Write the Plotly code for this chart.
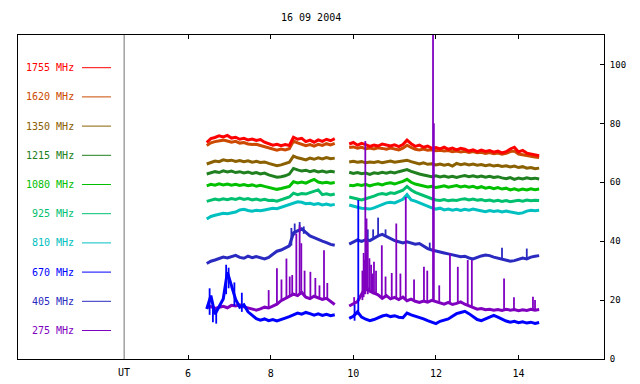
import plotly.graph_objects as go

# ---------------- data ----------------
TITLE = "16 09 2004"
LABELS = ["1755 MHz", "1620 MHz", "1350 MHz", "1215 MHz", "1080 MHz",
          "925 MHz", "810 MHz", "670 MHz", "405 MHz", "275 MHz"]
X_TICKS = [6, 8, 10, 12, 14]
Y_TICKS = [0, 20, 40, 60, 80, 100]

T_A = [6.45, 6.55, 6.65, 6.75, 6.85, 6.95, 7.05, 7.15, 7.25, 7.35, 7.45, 7.55,
       7.65, 7.75, 7.85, 7.95, 8.05, 8.15, 8.25, 8.35, 8.45, 8.55, 8.65, 8.75,
       8.85, 8.95, 9.05, 9.15, 9.25, 9.35, 9.45, 9.55]
T_B = [9.9, 10.0, 10.1, 10.2, 10.3, 10.4, 10.5, 10.6, 10.7, 10.8, 10.9, 11.0,
       11.1, 11.2, 11.3, 11.4, 11.5, 11.6, 11.7, 11.8, 11.9, 12.0, 12.1, 12.2,
       12.3, 12.4, 12.5, 12.6, 12.7, 12.8, 12.9, 13.0, 13.1, 13.2, 13.3, 13.4,
       13.5, 13.6, 13.7, 13.8, 13.9, 14.0, 14.1, 14.2, 14.3, 14.4, 14.5]

F1755_A = [73.5, 74.8, 75.2, 75.8, 75.4, 75.9, 75.0, 75.3,
           74.6, 74.9, 74.4, 74.7, 74.2, 74.5, 73.6, 73.2,
           72.6, 72.9, 72.4, 72.8, 72.5, 75.3, 74.6, 74.9,
           73.8, 74.3, 73.6, 74.4, 73.9, 74.6, 74.1, 74.8]
F1755_B = [73.0, 73.5, 72.6, 73.2, 72.8, 72.2, 72.6, 72.3,
           73.0, 72.6, 72.3, 72.7, 72.1, 72.8, 74.3, 73.1,
           72.2, 72.6, 71.9, 72.3, 71.5, 71.8, 71.3, 71.9,
           71.2, 71.6, 71.0, 71.5, 71.2, 70.6, 71.0, 70.4,
           70.9, 70.5, 70.8, 70.2, 70.6, 70.0, 70.4, 71.3,
           71.9, 70.3, 70.8, 69.9, 69.6, 69.3, 69.0]

F1620_A = [72.5, 73.4, 73.8, 74.1, 74.3, 74.0, 73.6, 73.9,
           73.3, 73.5, 73.0, 72.8, 72.9, 72.5, 72.1, 71.6,
           71.2, 70.9, 71.3, 71.0, 71.4, 74.0, 73.4, 73.0,
           72.4, 72.8, 72.3, 72.9, 72.5, 73.1, 72.7, 73.2]
F1620_B = [71.8, 72.0, 71.6, 71.9, 71.4, 71.6, 71.3, 71.7,
           71.5, 71.2, 71.6, 71.3, 71.0, 71.6, 72.6, 71.8,
           71.2, 71.0, 71.3, 70.9, 71.0, 70.7, 70.9, 70.6,
           70.8, 70.4, 70.6, 70.3, 70.5, 70.1, 70.4, 70.0,
           70.2, 69.8, 70.1, 69.7, 69.9, 69.5, 69.8, 70.4,
           70.6, 69.6, 69.3, 69.0, 68.8, 68.6, 68.4]

F1350_A = [66.2, 66.8, 67.2, 67.0, 67.6, 67.3, 67.5, 67.1,
           67.4, 67.0, 67.3, 66.8, 67.1, 66.7, 66.9, 66.4,
           66.0, 65.6, 65.9, 66.3, 66.8, 68.9, 68.3, 68.0,
           67.6, 68.2, 67.8, 68.3, 67.9, 68.4, 68.0, 68.2]
F1350_B = [66.9, 67.1, 66.8, 67.0, 66.6, 66.9, 66.7, 67.0,
           66.6, 66.9, 67.2, 66.8, 67.1, 67.3, 67.5, 67.0,
           66.5, 66.2, 66.6, 66.1, 66.3, 65.9, 66.2, 65.8,
           66.1, 65.5, 66.4, 66.0, 66.3, 65.9, 66.2, 65.8,
           66.0, 65.6, 65.9, 65.5, 65.8, 65.4, 65.6, 65.2,
           65.5, 65.0, 65.3, 64.8, 65.0, 64.6, 64.8]

F1215_A = [62.8, 63.2, 63.6, 63.3, 63.9, 63.5, 63.8, 63.3,
           63.6, 63.2, 63.5, 63.0, 63.3, 62.8, 63.1, 62.5,
           62.0, 61.7, 61.9, 62.2, 62.8, 64.7, 64.2, 63.8,
           64.1, 63.6, 64.0, 63.5, 63.8, 63.4, 63.7, 63.5]
F1215_B = [63.4, 63.0, 63.3, 62.9, 63.1, 62.7, 63.2, 63.0,
           63.4, 63.1, 63.5, 63.2, 63.6, 63.9, 64.3, 63.7,
           63.2, 62.8, 62.5, 62.2, 61.9, 62.2, 61.8, 62.1,
           61.7, 62.0, 61.6, 62.0, 62.3, 61.9, 62.2, 61.8,
           62.1, 61.7, 62.0, 61.6, 61.9, 61.5, 61.2, 61.6,
           61.0, 61.4, 61.1, 61.5, 61.2, 61.4, 61.1]

F1080_A = [58.8, 59.3, 59.0, 59.5, 59.1, 59.4, 59.0, 59.3,
           58.9, 59.2, 58.8, 59.1, 58.7, 59.0, 58.6, 58.3,
           57.9, 57.6, 57.9, 58.2, 58.6, 60.2, 59.8, 60.1,
           59.7, 60.4, 61.0, 60.1, 59.8, 60.0, 59.7, 59.9]
F1080_B = [59.0, 58.8, 59.2, 58.9, 59.3, 58.8, 59.2, 59.5,
           59.1, 59.6, 59.8, 59.4, 59.9, 60.3, 61.0, 60.0,
           59.4, 59.0, 58.7, 58.4, 58.6, 58.2, 58.5, 58.8,
           58.3, 58.6, 58.9, 58.4, 58.7, 58.3, 58.6, 58.1,
           58.5, 58.0, 58.3, 57.8, 58.2, 57.7, 58.0, 57.4,
           57.8, 57.3, 57.7, 57.4, 57.8, 57.5, 57.7]

F925_A = [53.5, 54.0, 54.3, 54.0, 54.4, 54.1, 54.5, 54.2,
          54.6, 54.2, 54.5, 54.0, 54.3, 53.9, 54.2, 53.8,
          53.9, 53.6, 54.0, 54.4, 55.0, 56.3, 55.8, 56.2,
          56.0, 56.5, 57.0, 57.4, 55.8, 56.1, 55.7, 56.0]
F925_B = [55.0, 54.6, 54.2, 54.0, 54.4, 54.8, 55.3, 55.9,
          56.2, 55.9, 56.4, 56.2, 56.8, 57.3, 58.6, 57.4,
          56.6, 56.0, 55.4, 54.9, 54.4, 54.0, 53.8, 54.1,
          53.7, 54.0, 53.8, 54.2, 54.4, 54.0, 54.3, 53.9,
          54.1, 53.7, 54.0, 53.6, 53.9, 53.5, 53.8, 53.4,
          53.7, 53.9, 53.6, 54.0, 53.7, 53.9, 53.8]

F810_A = [47.5, 48.4, 48.8, 49.2, 49.5, 49.3, 49.6, 49.9,
          50.6, 50.8, 50.4, 50.2, 50.5, 50.3, 50.6, 50.8,
          51.2, 51.0, 51.5, 52.0, 52.4, 52.8, 53.4, 53.2,
          52.7, 52.9, 52.5, 52.8, 52.3, 52.6, 52.2, 52.5]
F810_B = [52.3, 51.8, 51.5, 51.2, 51.0, 50.9, 51.3, 51.8,
          52.5, 53.0, 53.2, 53.0, 53.6, 54.2, 55.8, 54.0,
          53.6, 53.0, 52.6, 52.0, 51.3, 50.9, 51.2, 50.6,
          50.9, 50.5, 50.8, 50.4, 50.8, 50.5, 50.9, 50.6,
          50.3, 50.0, 50.4, 50.1, 50.3, 49.9, 50.2, 49.9,
          49.8, 49.4, 49.6, 50.2, 50.5, 50.3, 50.5]

F670_A = [17.0, 21.5, 15.2, 17.8, 20.4, 29.5, 25.0, 20.2,
          17.6, 18.4, 16.0, 14.8, 13.7, 13.2, 13.6, 13.0,
          13.4, 12.9, 13.5, 13.9, 14.4, 15.0, 15.6, 15.2,
          15.8, 15.4, 14.9, 15.3, 14.8, 15.2, 14.7, 15.0]
F670_B = [13.8, 14.5, 16.0, 14.2, 13.5, 13.0, 13.4, 14.0,
          14.6, 14.9, 14.4, 14.7, 14.2, 14.0, 15.6, 15.0,
          14.6, 14.0, 13.6, 13.0, 12.4, 12.0, 12.8, 13.3,
          13.6, 14.5, 15.4, 15.8, 16.2, 15.4, 14.3, 13.4,
          13.0, 13.6, 14.2, 14.8, 14.2, 13.5, 12.9, 12.5,
          12.8, 12.3, 12.6, 12.2, 12.5, 12.1, 12.4]

F405_A = [32.4, 33.2, 33.6, 34.1, 34.6, 34.3, 34.8, 35.2,
          34.5, 34.2, 34.9, 34.4, 34.8, 34.3, 34.0, 34.5,
          35.6, 36.6, 37.0, 37.6, 38.4, 42.8, 43.5, 44.2,
          43.0, 41.8, 41.2, 40.5, 40.0, 39.5, 38.9, 38.6]
F405_B = [39.0, 39.8, 40.4, 39.9, 40.5, 40.2, 41.0, 41.8,
          42.3, 41.6, 40.8, 40.2, 39.8, 39.4, 39.8, 39.3,
          39.0, 39.2, 38.3, 37.5, 37.0, 36.6, 36.3, 36.0,
          35.7, 35.4, 35.0, 34.7, 34.9, 34.3, 34.0, 34.6,
          35.0, 35.3, 35.1, 34.6, 34.2, 33.8, 33.6, 33.2,
          33.4, 33.8, 34.3, 34.0, 34.6, 34.9, 35.1]

F275_A = [17.5, 17.8, 17.2, 17.6, 17.9, 17.4, 18.2, 18.0,
          18.4, 17.7, 17.3, 16.9, 16.6, 17.0, 17.6, 17.3,
          18.0, 18.6, 19.8, 20.5, 21.2, 22.0, 21.5, 22.6,
          21.0, 20.5, 21.3, 20.8, 20.2, 20.6, 19.4, 18.5]
F275_B = [18.0, 18.8, 19.5, 22.0, 24.5, 23.0, 22.4, 21.8,
          20.6, 21.5, 20.4, 20.9, 20.2, 21.0, 19.8, 20.3,
          19.6, 19.2, 19.7, 19.3, 19.9, 19.4, 19.0, 18.6,
          19.2, 18.5, 18.9, 19.4, 18.6, 18.0, 17.4, 16.9,
          17.1, 16.7, 16.9, 16.6, 16.8, 16.5, 16.9, 16.6,
          16.8, 16.4, 16.7, 16.5, 16.9, 16.6, 16.8]

# short bursts: time, low, high
S275_T = [7.95, 8.15, 8.26, 8.38, 8.46, 8.52, 8.62, 8.70, 8.74, 8.82, 8.96, 9.08,
          9.18, 9.29, 9.37, 10.02, 10.22, 10.25, 10.27, 10.29, 10.32, 10.35, 10.39,
          10.43, 10.47, 10.50, 10.55, 10.69, 10.78, 10.93, 11.04, 11.14, 11.27,
          11.47, 11.71, 11.79, 11.93, 11.95, 12.08, 12.34, 12.53, 12.77, 12.87,
          13.65, 13.89, 14.35, 14.40]
S275_LO = [17.3, 18.6, 19.8, 20.5, 21.2, 21.5, 21.5, 22.0, 22.0, 21.0, 20.5, 21.0,
           20.8, 20.2, 20.5, 18.5, 20.0, 21.0, 22.0, 22.0, 23.0, 22.0, 23.5,
           23.0, 22.0, 22.0, 22.0, 21.0, 21.0, 20.5, 20.9, 20.5, 20.5,
           20.0, 19.5, 19.5, 19.5, 19.5, 19.0, 19.0, 18.8, 18.5, 17.5,
           16.5, 16.6, 16.8, 16.6]
S275_HI = [23.4, 30.8, 27.0, 34.1, 28.0, 28.5, 42.6, 45.4, 39.3, 30.0, 29.6, 27.5,
           25.0, 36.9, 25.8, 21.0, 30.0, 36.0, 33.6, 74.0, 47.7, 40.0, 34.2,
           32.0, 29.0, 33.0, 30.0, 38.6, 28.0, 29.2, 46.0, 29.0, 55.0,
           27.0, 31.3, 30.0, 112.0, 80.0, 25.0, 35.8, 31.3, 33.6, 33.6,
           27.3, 21.0, 21.1, 20.0]

S670_T = [6.52, 6.60, 6.68, 6.92, 6.98, 7.12, 7.30, 10.03, 10.12]
S670_LO = [15.0, 12.5, 12.0, 22.0, 24.0, 18.0, 16.0, 13.0, 15.0]
S670_HI = [24.0, 19.0, 16.0, 32.0, 31.0, 26.0, 22.5, 18.5, 54.0]

S405_T = [8.50, 8.58, 8.70, 8.80, 10.35, 10.48, 10.60, 10.78, 11.85, 13.60, 14.20]
S405_LO = [38.5, 42.0, 43.0, 42.5, 40.0, 40.5, 41.5, 41.5, 37.2, 33.8, 34.0]
S405_HI = [44.5, 46.0, 46.5, 45.0, 44.0, 44.0, 48.0, 44.0, 39.5, 37.8, 37.5]

# ---------------- styling ----------------
COLORS = ["#ff0000", "#cc4a00", "#8a6000", "#208020", "#00c000",
          "#00c070", "#00c0c0", "#0000ff", "#2a2ac0", "#8000c0"]
FONT = "DejaVu Sans Mono"

series_a = [F1755_A, F1620_A, F1350_A, F1215_A, F1080_A, F925_A, F810_A, F670_A, F405_A, F275_A]
series_b = [F1755_B, F1620_B, F1350_B, F1215_B, F1080_B, F925_B, F810_B, F670_B, F405_B, F275_B]
for a, b in zip(series_a, series_b):
    assert len(a) == len(T_A) and len(b) == len(T_B)

fig = go.Figure()

# base lines: draw low frequencies first, high ones on top
for i in reversed(range(len(LABELS))):
    fig.add_trace(go.Scatter(
        x=T_A + [None] + T_B, y=series_a[i] + [None] + series_b[i],
        mode="lines", line=dict(color=COLORS[i], width=3), hoverinfo="skip"))

def spikes(ts, lo, hi, color):
    xs, ys = [], []
    for t, l, h in zip(ts, lo, hi):
        xs += [t, t, None]
        ys += [l, h, None]
    fig.add_trace(go.Scatter(x=xs, y=ys, mode="lines",
                             line=dict(color=color, width=1.8), hoverinfo="skip"))

spikes(S405_T, S405_LO, S405_HI, COLORS[8])
spikes(S670_T, S670_LO, S670_HI, COLORS[7])
spikes(S275_T, S275_LO, S275_HI, COLORS[9])

# ---------------- layout ----------------
# page body has an 8px default margin, so the figure is drawn 8px in and 8px down
OFF = 8
L, R, T, B = 18, 604, 35, 359          # target frame in window pixels
W, H = 640 - OFF, 384 - OFF
pw, ph = R - L, B - T

def px(xp):
    return (xp - L) / pw

def py(yp):
    return (B - yp) / ph

shapes = [dict(type="line", xref="x", yref="paper", x0=4.45, x1=4.45, y0=0, y1=1,
               line=dict(color="#707070", width=1))]
annotations = [dict(text=TITLE, xref="paper", yref="paper", x=0.5, y=py(17.5),
                    showarrow=False, xanchor="center", yanchor="middle",
                    font=dict(family=FONT, size=10, color="black")),
               dict(text="UT", xref="x", yref="paper", x=4.45, y=py(372),
                    showarrow=False, xanchor="center", yanchor="middle",
                    font=dict(family=FONT, size=10, color="black"))]
for i, (lab, col) in enumerate(zip(LABELS, COLORS)):
    yp = 67.7 + 29.2 * i
    annotations.append(dict(text=lab, xref="paper", yref="paper", x=px(76), y=py(yp),
                            showarrow=False, xanchor="right", yanchor="middle",
                            font=dict(family=FONT, size=10, color=col)))
    shapes.append(dict(type="line", xref="paper", yref="paper",
                       x0=px(82), x1=px(111), y0=py(yp), y1=py(yp),
                       line=dict(color=col, width=1)))

fig.update_layout(
    width=W, height=H, autosize=False,
    margin=dict(l=L - OFF, r=640 - R, t=T - OFF, b=384 - B, pad=0, autoexpand=False),
    paper_bgcolor="white", plot_bgcolor="white",
    showlegend=False, shapes=shapes, annotations=annotations,
    xaxis=dict(range=[1.88, 16.07], showgrid=False, zeroline=False, automargin=False,
               showline=True, linecolor="black", linewidth=1, mirror="ticks",
               ticks="inside", ticklen=4, tickcolor="black", tickvals=X_TICKS,
               ticklabelstandoff=5,
               tickfont=dict(family=FONT, size=10, color="black")),
    yaxis=dict(range=[0, 110], side="right", showgrid=False, zeroline=False, automargin=False,
               showline=True, linecolor="black", linewidth=1, mirror=True,
               ticks="inside", ticklen=4, tickcolor="black", tickvals=Y_TICKS,
               ticklabelstandoff=3,
               tickfont=dict(family=FONT, size=9, color="black")),
)

fig.write_html("out.html")
